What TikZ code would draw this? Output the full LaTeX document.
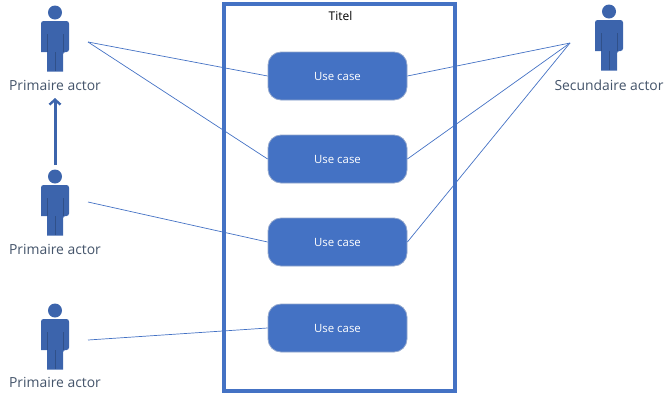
\documentclass[tikz,border=0pt]{standalone}
\usepackage{fontspec}
\setmainfont{Open Sans}
\usetikzlibrary{arrows.meta}
\definecolor{ub}{HTML}{4472C4}
\definecolor{ab}{HTML}{3C64AC}
\definecolor{lb}{HTML}{3C64AC}
\definecolor{tx}{HTML}{44546A}
\tikzset{
  usecase/.style={draw=ub!55!white!80!gray,line width=0.8pt,fill=ub,rounded corners=13pt,minimum width=139pt,minimum height=48pt,inner sep=0pt,text=white,font=\fontsize{11.4}{13}\selectfont},
  actlabel/.style={text=tx,inner sep=0pt,font=\fontsize{13.9}{16}\selectfont},
  conn/.style={draw=ub,line width=0.7pt},
  person/.style={fill=ab,draw=none},
  personline/.style={draw=ub!70!black,line width=0.5pt},
  assoc/.style={draw=lb,line width=3pt,-{Straight Barb[length=5pt,width=11pt,line width=2.4pt]}}
}
\newcommand{\actorfig}[3]{%
  \coordinate (#1) at (#2,#3);
  \fill[person] (#2,#3) ++(0,-8.5) circle (7);
  \fill[person,rounded corners=2.5pt] (#2-14,#3+31) -- (#2-14,#3) -- (#2+14,#3) -- (#2+14,#3+31) -- (#2+8,#3+31) [sharp corners] -- (#2+8,#3+50.5) -- (#2-8,#3+50.5) -- (#2-8,#3+31) -- cycle;
  \draw[personline] (#2-8,#3+13) -- (#2-8,#3+31) (#2+8,#3+13) -- (#2+8,#3+31) (#2,#3+31) -- (#2,#3+50);
}
\begin{document}
\begin{tikzpicture}[x=1pt,y=-1pt]
\useasboundingbox (0,0) rectangle (672,400);
\node[draw=ub,line width=4pt,minimum width=231pt,minimum height=387pt,inner sep=0pt] (sys) at (339,197.5) {};
\node[inner sep=0pt,font=\fontsize{12}{13}\selectfont,text=black] (title) at (340.5,16) {Titel};
\node[usecase] (u1) at (337.5,76) {Use case};
\node[usecase] (u2) at (337.5,159) {Use case};
\node[usecase] (u3) at (337.5,242) {Use case};
\node[usecase] (u4) at (337.5,328) {Use case};
\actorfig{a1}{55}{21}
\actorfig{a2}{55}{185}
\actorfig{a3}{55}{319}
\actorfig{a4}{609}{20}
\node[actlabel] (l1) at (55,85.5) {Primaire actor};
\node[actlabel] (l2) at (55,249.5) {Primaire actor};
\node[actlabel] (l3) at (55,382.5) {Primaire actor};
\node[actlabel] (l4) at (609,85.5) {Secundaire actor};
\coordinate (p1) at (88,42);
\coordinate (p2) at (88,202);
\coordinate (p3) at (88,340);
\coordinate (p4) at (570,43);
\coordinate (atop) at (55,165);
\coordinate (abot) at (55,98);
\draw[conn] (p1) -- (u1.west);
\draw[conn] (p1) -- (u2.west);
\draw[conn] (p2) -- (u3.west);
\draw[conn] (p3) -- (u4.west);
\draw[conn] (p4) -- (u1.east);
\draw[conn] (p4) -- (u2.east);
\draw[conn] (p4) -- (u3.east);
\draw[assoc] (atop) -- (abot);
\end{tikzpicture}
\end{document}
